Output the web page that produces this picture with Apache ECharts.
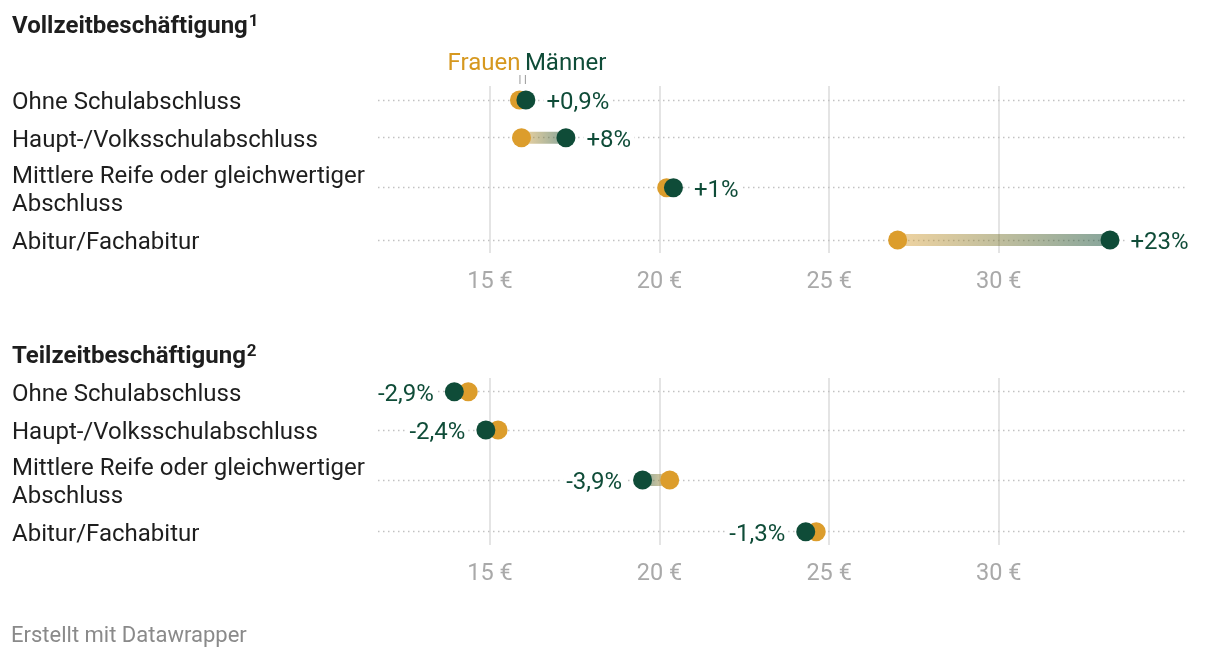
<!DOCTYPE html>
<html><head><meta charset="utf-8">
<script src="https://cdn.jsdelivr.net/npm/echarts/dist/echarts.min.js"></script>
<style>html,body{margin:0;padding:0;background:#fff}#c{width:1220px;height:658px}</style>
</head><body><div id="c"></div>
<script>
// ---- data ----
const categories = ['Ohne Schulabschluss', 'Haupt-/Volksschulabschluss', 'Mittlere Reife oder gleichwertiger\nAbschluss', 'Abitur/Fachabitur'];
const vzFrauen  = [15.87, 15.93, 20.21, 27.02];
const vzMaenner = [16.06, 17.24, 20.41, 33.28];
const vzLabels  = ['+0,9%', '+8%', '+1%', '+23%'];
const tzFrauen  = [14.36, 15.24, 20.30, 24.62];
const tzMaenner = [13.95, 14.88, 19.50, 24.31];
const tzLabels  = ['-2,9%', '-2,4%', '-3,9%', '-1,3%'];
const xTicks = [15, 20, 25, 30];
const titles = [['Vollzeitbeschäftigung', '1'], ['Teilzeitbeschäftigung', '2']];
const legendNames = ['Frauen', 'Männer'];
const footer = 'Erstellt mit Datawrapper';

// ---- layout / style ----
const FONT = 'Roboto, sans-serif';
const F_COLOR = '#dc9d2c', M_COLOR = '#0f4c38';
const TEXT = '#1e1e1e';
const PLOT_LEFT = 378, PLOT_RIGHT = 1188;
const X_MIN = 11.7, X_MAX = 35.58;
const FS = 24;
const TEXT_SHIFT = 3;
const panels = [
  { frauen: vzFrauen, maenner: vzMaenner, labels: vzLabels, rows: [100, 137.7, 187.7, 240], top: 86, bottom: 253, side: 'right', titleY: 27 },
  { frauen: tzFrauen, maenner: tzMaenner, labels: tzLabels, rows: [391.7, 430, 480, 531.7], top: 378, bottom: 545, side: 'left', titleY: 357 }
];

const pxPerUnit = (PLOT_RIGHT - PLOT_LEFT) / (X_MAX - X_MIN);
const grid = [], xAxis = [], yAxis = [], series = [];
const firstRowGrid = [];

panels.forEach(p => {
  const gi = grid.length;
  grid.push({ left: PLOT_LEFT + (xTicks[0] - X_MIN) * pxPerUnit, width: (xTicks[xTicks.length - 1] - xTicks[0]) * pxPerUnit, top: p.top, height: p.bottom - p.top, outerBoundsMode: 'none' });
  xAxis.push({ gridIndex: gi, type: 'value', min: xTicks[0], max: xTicks[xTicks.length - 1], interval: xTicks[1] - xTicks[0],
    axisLine: { show: false }, axisTick: { show: false },
    splitLine: { show: true, lineStyle: { color: '#e4e4e4', width: 2 } },
    axisLabel: { formatter: v => v + ' €', color: '#a9a9a9', fontSize: 23.5, fontFamily: FONT, margin: 17 } });
  yAxis.push({ gridIndex: gi, type: 'value', show: false });

  p.rows.forEach((cy, i) => {
    const ri = grid.length;
    if (i === 0) firstRowGrid.push(ri);
    grid.push({ left: PLOT_LEFT, right: 1220 - PLOT_RIGHT, top: cy - 15, height: 30, outerBoundsMode: 'none' });
    xAxis.push({ gridIndex: ri, type: 'value', min: X_MIN, max: X_MAX, show: false });
    yAxis.push({ gridIndex: ri, type: 'category', data: [categories[i]],
      axisLine: { show: false }, axisTick: { show: false }, splitLine: { show: false },
      axisLabel: { align: 'left', margin: PLOT_LEFT - 12,
        formatter: v => v.split('\n').map(s => '{a|' + s + '}').join('\n'),
        rich: { a: { fontSize: FS, color: TEXT, fontFamily: FONT, lineHeight: 28, padding: [2 * TEXT_SHIFT, 0, 0, 0] } } } });

    const fLeft = p.frauen[i] < p.maenner[i];
    series.push({
      type: 'custom', xAxisIndex: ri, yAxisIndex: ri, z: 2, silent: true,
      data: [[p.frauen[i], p.maenner[i], 0]], encode: { x: [0, 1], y: 2 },
      renderItem: (params, api) => {
        const a = api.coord([api.value(0), api.value(2)]);
        const b = api.coord([api.value(1), api.value(2)]);
        const h = 12;
        const x0 = Math.min(a[0], b[0]), x1 = Math.max(a[0], b[0]);
        return { type: 'rect', shape: { x: x0, y: a[1] - h / 2, width: x1 - x0, height: h },
          style: { fill: new echarts.graphic.LinearGradient(fLeft ? 0 : 1, 0, fLeft ? 1 : 0, 0, [
            { offset: 0, color: 'rgba(220,157,44,0.45)' }, { offset: 1, color: 'rgba(15,76,56,0.5)' }]) } };
      }
    });
    series.push({
      type: 'scatter', xAxisIndex: ri, yAxisIndex: ri, z: 3, silent: true,
      data: [[p.frauen[i], 0]], symbolSize: 19, itemStyle: { color: F_COLOR, opacity: 1 },
      markLine: { silent: true, symbol: 'none', z: 1, label: { show: false }, animation: false,
        lineStyle: { color: '#c2c2c2', type: [1.5, 3.5], width: 1.3 }, data: [{ yAxis: 0 }] }
    });
    series.push({
      type: 'scatter', xAxisIndex: ri, yAxisIndex: ri, z: 4, silent: true,
      data: [[p.maenner[i], 0]], symbolSize: 19, itemStyle: { color: M_COLOR, opacity: 1 },
      label: { show: true, position: p.side, distance: 8, offset: [0, TEXT_SHIFT], formatter: p.labels[i], color: M_COLOR,
        fontSize: FS, fontFamily: FONT, backgroundColor: '#fff', padding: [0, 3] }
    });
  });
});

const graphic = [];
panels.forEach((p, k) => {
  graphic.push({ type: 'text', x: 12, y: p.titleY, style: {
    text: '{t|' + titles[k][0] + '}{s|' + titles[k][1] + '}', verticalAlign: 'middle',
    rich: { t: { fontSize: FS, fontWeight: 'bold', fontFamily: FONT, fill: TEXT, lineHeight: 28 },
            s: { fontSize: 17, fontWeight: 'bold', fontFamily: FONT, fill: TEXT, verticalAlign: 'top', lineHeight: 18, padding: [0, 0, 0, 1] } } } });
});
graphic.push({ type: 'text', x: 11, y: 636, style: { text: footer, fontSize: 22, fontFamily: FONT, fill: '#8a8a8a', verticalAlign: 'middle' } });

const chart = echarts.init(document.getElementById('c'), null, { renderer: 'canvas' });
chart.setOption({ animation: false, backgroundColor: '#fff', grid, xAxis, yAxis, series, graphic });

// legend annotation pointing at the first row of the first panel
const fx = chart.convertToPixel({ xAxisIndex: firstRowGrid[0] }, vzFrauen[0]);
const mx = chart.convertToPixel({ xAxisIndex: firstRowGrid[0] }, vzMaenner[0]);
graphic.push({ type: 'text', x: fx + 1, y: 64, style: { text: legendNames[0], fontSize: FS, fontFamily: FONT, fill: '#d6981f', align: 'right', verticalAlign: 'middle' } });
graphic.push({ type: 'text', x: mx - 1, y: 64, style: { text: legendNames[1], fontSize: FS, fontFamily: FONT, fill: M_COLOR, align: 'left', verticalAlign: 'middle' } });
graphic.push({ type: 'line', shape: { x1: fx + 0.5, y1: 75, x2: fx + 0.5, y2: 84 }, style: { stroke: '#999', lineWidth: 1 } });
graphic.push({ type: 'line', shape: { x1: mx - 0.5, y1: 75, x2: mx - 0.5, y2: 84 }, style: { stroke: '#999', lineWidth: 1 } });
chart.setOption({ graphic });
</script></body></html>
